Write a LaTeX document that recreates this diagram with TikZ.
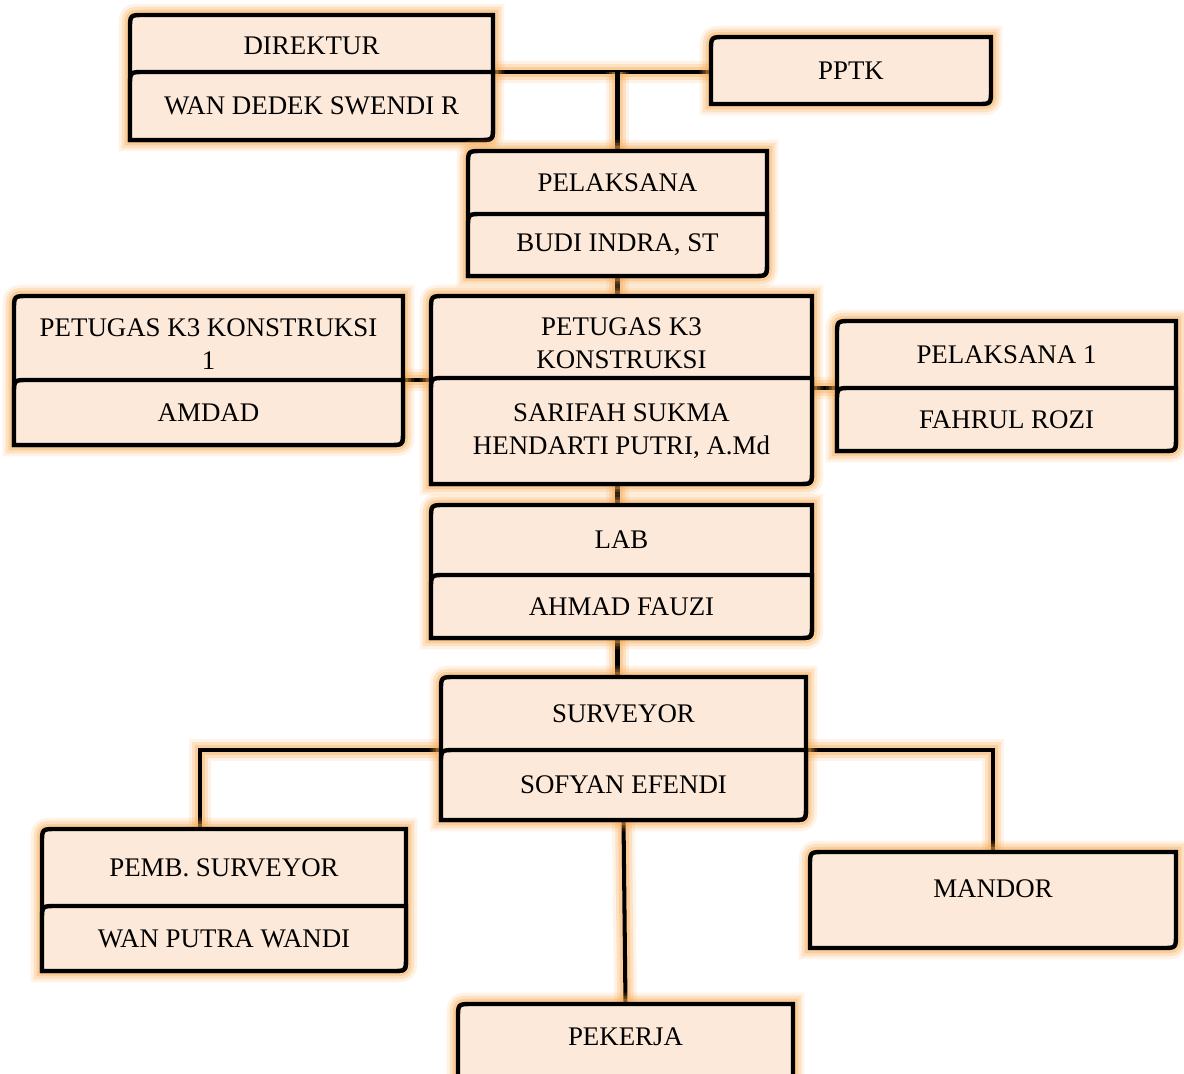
\documentclass[tikz,border=0pt]{standalone}
\usepackage{fontspec}
\setmainfont{Liberation Serif}
\definecolor{isi}{HTML}{FDE9D9}
\definecolor{jingga}{HTML}{F8A850}
\pgfdeclarelayer{garis}
\pgfdeclarelayer{kotak}
\pgfsetlayers{garis,kotak,main}
\tikzset{
  bagian/.style 2 args={anchor=north west, inner sep=0pt, outer sep=0pt, align=center,
    minimum width=#1*0.02cm, minimum height=#2*0.02cm, font=\fontsize{15.3}{18.7}\selectfont},
  pinggir/.style={draw=black, line width=2.5pt, fill=isi},
  berpendar/.style={preaction={draw=jingga, line width=13pt, opacity=.14},
    preaction={draw=jingga, line width=9.5pt, opacity=.24},
    preaction={draw=jingga, line width=6pt, opacity=.35}},
  garis/.style={draw=black, line width=2.3pt, berpendar}
}
% kotak dengan sudut kiri atas dan kanan bawah membulat
\newcommand\kotak[3][berpendar]{%
  \path[pinggir,#1] (#3.south west) -- ([yshift=-8pt]#2.north west)
    .. controls (#2.north west) .. ([xshift=8pt]#2.north west) -- (#2.north east)
    -- ([yshift=8pt]#3.south east) .. controls (#3.south east) .. ([xshift=-8pt]#3.south east) -- cycle;}

\begin{document}
\begin{tikzpicture}[x=0.02cm,y=-0.02cm]
\useasboundingbox (0,0) rectangle (1184,1073);
\node[bagian={363}{57}] (direktur) at (130,15) {\rule{0pt}{13pt}DIREKTUR};
\node[bagian={363}{68}] (wan) at (130,72) {WAN DEDEK SWENDI R};
\node[bagian={280}{67}] (pptk) at (711,37) {PPTK};
%
\node[bagian={299}{63}] (pelaksana) at (468,151) {PELAKSANA};
\node[bagian={299}{62}] (budi) at (468,214) {BUDI INDRA, ST};
%
\node[bagian={389}{84}] (k3satu) at (14,296) {\rule{0pt}{17pt}PETUGAS K3 KONSTRUKSI\\1};
\node[bagian={389}{65}] (amdad) at (14,380) {AMDAD};
\node[bagian={381}{82}] (k3) at (431,296) {\rule{0pt}{17pt}PETUGAS K3\\KONSTRUKSI};
\node[bagian={381}{106}] (sarifah) at (431,378) {SARIFAH SUKMA\\HENDARTI PUTRI, A.Md};
\node[bagian={339}{67}] (pelaksanasatu) at (837,321) {PELAKSANA 1};
\node[bagian={339}{63}] (fahrul) at (837,388) {FAHRUL ROZI};
%
\node[bagian={381}{70}] (lab) at (431,505) {LAB};
\node[bagian={381}{63}] (ahmad) at (431,575) {AHMAD FAUZI};
\node[bagian={365}{73}] (surveyor) at (441,677) {SURVEYOR};
\node[bagian={365}{70}] (sofyan) at (441,750) {SOFYAN EFENDI};
%
\node[bagian={364}{77}] (pemb) at (42,829) {PEMB. SURVEYOR};
\node[bagian={364}{65}] (wanputra) at (42,906) {WAN PUTRA WANDI};
\node[bagian={366}{96}] (mandor) at (810,852) {\raisebox{0.06cm}[0pt][0pt]{MANDOR}};
\node[bagian={335}{86}] (pekerja) at (458,1004) {\raisebox{0.04cm}[0pt][0pt]{PEKERJA}};
%
\begin{pgfonlayer}{garis}
\draw[garis] (direktur.south east) -- (direktur.south east -| pptk.west);
\draw[garis] (direktur.south east -| pelaksana.north) -- (pelaksana.north);
\draw[garis] (budi.south) -- (budi.south |- k3.north);
\draw[garis] (k3satu.south east) -- (k3satu.south east -| k3.west);
\draw[garis] (fahrul.north west -| sarifah.east) -- (fahrul.north west);
\draw[garis] (sarifah.south -| budi.south) -- (lab.north -| budi.south);
\draw[garis] (ahmad.south -| budi.south) -- (surveyor.north -| budi.south);
\draw[garis] (sofyan.north west) -| ([xshift=-0.48cm]pemb.north);
\draw[garis] (sofyan.north east) -| (mandor.north);
\draw[garis] (sofyan.south) -- (pekerja.north);
\end{pgfonlayer}
%
\begin{pgfonlayer}{kotak}
\kotak{direktur}{wan} \kotak[]{wan}{wan}
\kotak{pptk}{pptk}
\kotak{pelaksana}{budi} \kotak[]{budi}{budi}
\kotak{k3satu}{amdad} \kotak[]{amdad}{amdad}
\kotak{k3}{sarifah} \kotak[]{sarifah}{sarifah}
\kotak{pelaksanasatu}{fahrul} \kotak[]{fahrul}{fahrul}
\kotak{lab}{ahmad} \kotak[]{ahmad}{ahmad}
\kotak{surveyor}{sofyan} \kotak[]{sofyan}{sofyan}
\kotak{pemb}{wanputra} \kotak[]{wanputra}{wanputra}
\kotak{mandor}{mandor}
\kotak{pekerja}{pekerja}
\end{pgfonlayer}
\end{tikzpicture}
\end{document}
